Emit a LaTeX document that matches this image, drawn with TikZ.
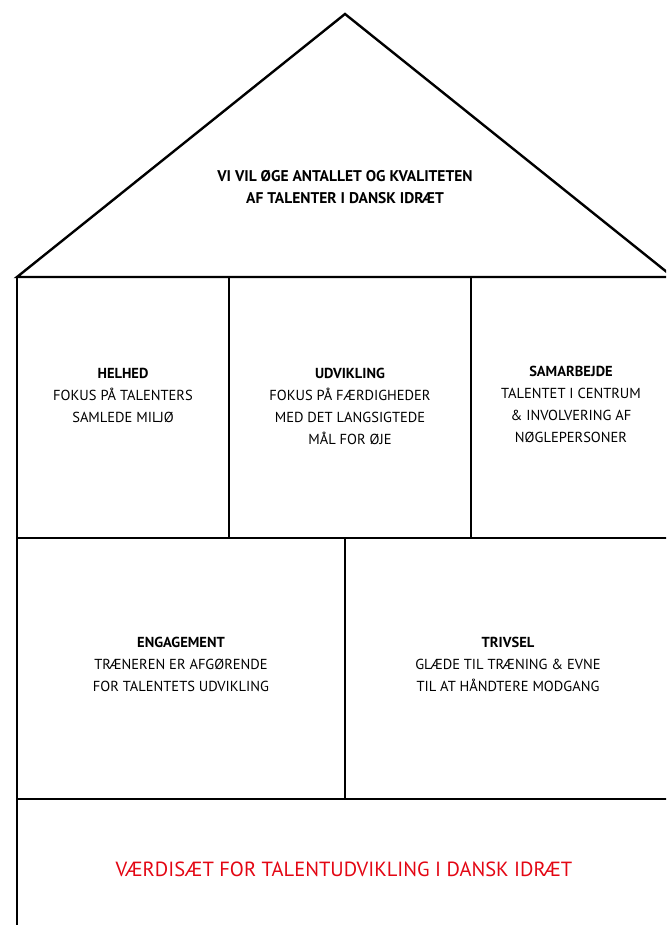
\documentclass[tikz,border=0pt]{standalone}
\usepackage{fontspec}
\setmainfont{PT Sans}
\usepackage{tikz}

\definecolor{difred}{RGB}{227,6,19}
\tikzset{
  wall/.style={line width=2.4pt, line cap=rect, line join=miter},
  pillar/.style={align=center, font=\fontsize{14.5}{22}\selectfont, inner sep=0pt},
  base/.style={font=\fontsize{20.5}{22}\selectfont, text=difred, inner sep=0pt}
}

\begin{document}
\begin{tikzpicture}[x=1pt,y=-1pt]
            \useasboundingbox (0,0) rectangle (666,925);
            \clip (0,0) rectangle (666,925);
            % house outline
            \coordinate (top) at (345,14);
            \coordinate (eaveL) at (17,277);
            \coordinate (eaveR) at (673,277);
            \coordinate (floorL) at (17,538);
            \coordinate (floorR) at (673,538);
            \coordinate (baseL) at (17,799);
            \coordinate (baseR) at (673,799);
            \coordinate (groundL) at (17,930);
            \draw [wall] (eaveL) -- (top) -- (eaveR) -- cycle;
            \draw [wall] (eaveL) -- (groundL);
            \draw [wall] (floorL) -- (floorR);
            \draw [wall] (baseL) -- (baseR);
            % dividers
            \draw [wall] (229,277) -- (229,538);
            \draw [wall] (471,277) -- (471,538);
            \draw [wall] (345,538) -- (345,799);
            % roof
            \node [pillar, anchor=north, font=\fontsize{15.5}{22}\selectfont] (vision) at (345,170) {\textbf{VI VIL ØGE ANTALLET OG KVALITETEN}\\ \textbf{AF TALENTER I DANSK IDRÆT}};
            % upper pillars
            \node [pillar, anchor=north] (helhed) at (123,368) {\textbf{HELHED}\\ FOKUS PÅ TALENTERS\\ SAMLEDE MILJØ};
            \node [pillar, anchor=north] (udvikling) at (350,368) {\textbf{UDVIKLING}\\ FOKUS PÅ FÆRDIGHEDER\\ MED DET LANGSIGTEDE\\ MÅL FOR ØJE};
            \node [pillar, anchor=north] (samarbejde) at (571,366) {\textbf{SAMARBEJDE}\\ TALENTET I CENTRUM\\ \& INVOLVERING AF\\ NØGLEPERSONER};
            % lower pillars
            \node [pillar, anchor=north] (engagement) at (181,637) {\textbf{ENGAGEMENT}\\ TRÆNEREN ER AFGØRENDE\\ FOR TALENTETS UDVIKLING};
            \node [pillar, anchor=north] (trivsel) at (508,637) {\textbf{TRIVSEL}\\ GLÆDE TIL TRÆNING \& EVNE\\ TIL AT HÅNDTERE MODGANG};
            % foundation
            \node [base] (vaerdi) at (344,869) {VÆRDISÆT FOR TALENTUDVIKLING I DANSK IDRÆT};
        \end{tikzpicture}
\end{document}
